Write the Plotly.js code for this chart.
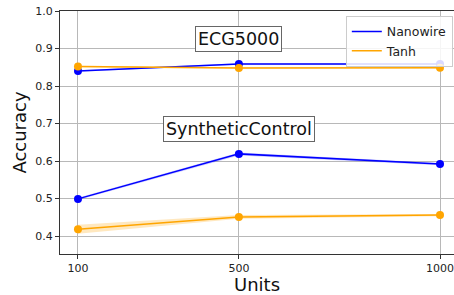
<!DOCTYPE html>
<html><head><meta charset="utf-8">
<script src="https://cdn.plot.ly/plotly-3.0.1.min.js"></script>
<style>html,body{margin:0;padding:0;background:#fff;overflow:hidden}</style>
</head><body><div id="chart" style="width:454px;height:295px"></div>
<script>
const units = [100, 500, 1000];
const ecgNanowire = [0.840, 0.859, 0.859];
const ecgTanh = [0.852, 0.848, 0.849];
const scNanowire = [0.499, 0.619, 0.592];
const scTanh = [0.418, 0.451, 0.456];
const ecgNanowireStd = [0.002, 0.002, 0.002];
const ecgTanhStd = [0.002, 0.002, 0.002];
const scNanowireStd = [0.003, 0.004, 0.003];
const scTanhStd = [0.012, 0.005, 0.003];
const seriesNames = ['Nanowire', 'Tanh'];
const datasetLabels = ['ECG5000', 'SyntheticControl'];

const blue = '#0000ff', orange = '#ffa500';
const traces = [];
function band(y, s, color) {
  const up = y.map((v,i)=>v+s[i]), lo = y.map((v,i)=>v-s[i]);
  traces.push({x: units, y: lo, mode:'lines', line:{width:0}, showlegend:false, hoverinfo:'skip'});
  traces.push({x: units, y: up, mode:'lines', line:{width:0}, fill:'tonexty', fillcolor: color, showlegend:false, hoverinfo:'skip'});
}
band(ecgNanowire, ecgNanowireStd, 'rgba(0,0,255,0.2)');
band(ecgTanh, ecgTanhStd, 'rgba(255,165,0,0.25)');
band(scNanowire, scNanowireStd, 'rgba(0,0,255,0.2)');
band(scTanh, scTanhStd, 'rgba(255,165,0,0.25)');
function line(y, color, name, legend) {
  traces.push({x: units, y: y, mode:'lines', line:{color:color, width:1.5}, name:name, showlegend:legend, legendgroup:name});
  traces.push({x: units, y: y, mode:'markers', marker:{color:color, size:8}, showlegend:false, legendgroup:name});
}
line(ecgNanowire, blue, seriesNames[0], true);
line(ecgTanh, orange, seriesNames[1], true);
line(scNanowire, blue, seriesNames[0], false);
line(scTanh, orange, seriesNames[1], false);

const layout = {
  width: 454, height: 295,
  margin: {l: 60, r: 0, t: 11, b: 41},
  paper_bgcolor: '#fff', plot_bgcolor: '#fff',
  font: {family: 'DejaVu Sans', color: '#222', size: 11},
  xaxis: {
    range: [55.3, 1034.8], tickvals: units, ticktext: units.map(String),
    showgrid: true, gridcolor: '#b8b8b8', gridwidth: 1,
    showline: true, linecolor: '#333', linewidth: 1, mirror: true,
    ticks: 'outside', ticklen: 4, tickcolor: '#333', zeroline: false,
    tickfont: {size: 11},
    title: {text: 'Units', font: {size: 18, color: '#111'}, standoff: 7}
  },
  yaxis: {
    range: [0.352, 1.0], tickvals: [0.4,0.5,0.6,0.7,0.8,0.9,1.0], ticktext: ['0.4','0.5','0.6','0.7','0.8','0.9','1.0'],
    showgrid: true, gridcolor: '#b8b8b8', gridwidth: 1,
    showline: true, linecolor: '#333', linewidth: 1, mirror: false,
    ticks: 'outside', ticklen: 4, tickcolor: '#333', zeroline: false,
    tickfont: {size: 11},
    title: {text: 'Accuracy', font: {size: 18, color: '#111'}, standoff: 3}
  },
  legend: {
    x: 0.997, y: 0.98, xanchor: 'right', yanchor: 'top',
    bgcolor: 'rgba(255,255,255,0.85)', bordercolor: '#ccc', borderwidth: 1,
    font: {size: 12.5, color: '#222'}, itemwidth: 30, tracegroupgap: 0
  },
  annotations: [
    {x: 500, y: 0.925, xref: 'x', yref: 'y', text: datasetLabels[0], showarrow: false,
     font: {size: 17.5, color: '#111'}, bgcolor: '#fff', bordercolor: '#666', borderwidth: 1, borderpad: 2},
    {x: 500, y: 0.685, xref: 'x', yref: 'y', text: datasetLabels[1], showarrow: false,
     font: {size: 17.5, color: '#111'}, bgcolor: '#fff', bordercolor: '#666', borderwidth: 1, borderpad: 2}
  ]
};
Plotly.newPlot('chart', traces, layout, {displayModeBar: false, staticPlot: true});
</script></body></html>
